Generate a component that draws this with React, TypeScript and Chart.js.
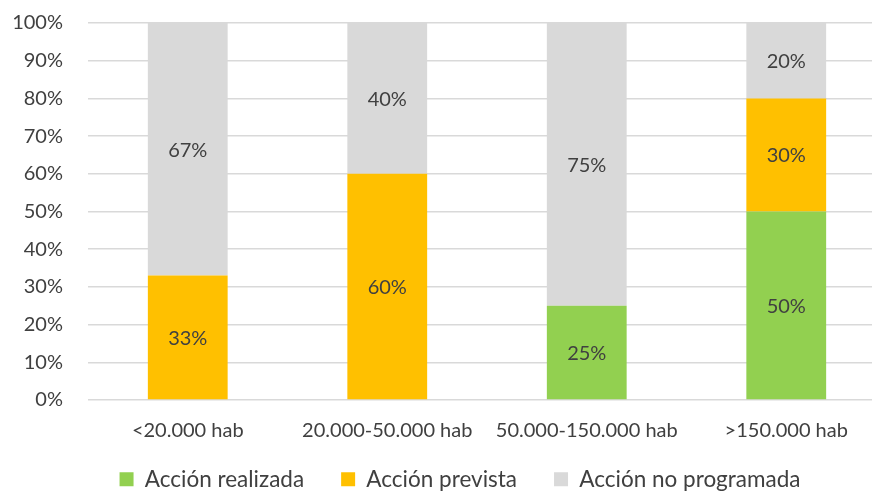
import React, { useEffect, useRef } from "react";
import { Chart, registerables } from "chart.js";

Chart.register(...registerables);

const categories = ["<20.000 hab", "20.000-50.000 hab", "50.000-150.000 hab", ">150.000 hab"];
const seriesNames = ["Acción realizada", "Acción prevista", "Acción no programada"];
const realizada = [0, 0, 25, 50];
const prevista = [33, 60, 0, 30];
const noProgramada = [67, 40, 75, 20];
const seriesColors = ["#92D050", "#FFC000", "#D9D9D9"];
const yTicks = [0, 10, 20, 30, 40, 50, 60, 70, 80, 90, 100];

const FONT = "Lato, 'Open Sans', sans-serif";
const TEXT = "#404040";

const dataLabelPlugin = {
  id: "dataLabels",
  afterDatasetsDraw(chart: any) {
    const ctx = chart.ctx;
    ctx.save();
    ctx.font = `20px ${FONT}`;
    ctx.fillStyle = TEXT;
    ctx.textAlign = "center";
    ctx.textBaseline = "middle";
    chart.data.datasets.forEach((ds: any, di: number) => {
      const meta = chart.getDatasetMeta(di);
      meta.data.forEach((bar: any, i: number) => {
        const v = ds.data[i];
        if (!v) return;
        const y = (bar.y + bar.base) / 2;
        ctx.fillText(v + "%", bar.x, y + 1);
      });
    });
    ctx.restore();
  },
};

const legendShiftPlugin = {
  id: "legendShift",
  afterLayout(chart: any) {
    const lg = chart.legend;
    if (!lg) return;
    lg.left = 3;
    lg.right = 917;
    lg.width = 914;
    lg.top = 431;
    lg.bottom = 491;
    lg.height = 60;
  },
};

export default function App() {
  const ref = useRef<HTMLCanvasElement>(null);
  useEffect(() => {
    if (!ref.current) return;
    const chart = new Chart(ref.current, {
      type: "bar",
      data: {
        labels: categories,
        datasets: [realizada, prevista, noProgramada].map((d, i) => ({
          label: seriesNames[i],
          data: d,
          backgroundColor: seriesColors[i],
          borderWidth: 0,
          barPercentage: 0.4,
          categoryPercentage: 1,
        })),
      },
      options: {
        animation: false,
        responsive: false,
        layout: { padding: { top: 23, right: 14, left: 0, bottom: 2 } },
        plugins: {
          tooltip: { enabled: false },
          legend: {
            position: "bottom",
            maxHeight: 40,
            labels: {
              font: { family: FONT, size: 22.5 },
              color: TEXT,
              boxWidth: 14,
              boxHeight: 14,
              padding: 37,
            },
          },
        },
        scales: {
          x: {
            stacked: true,
            grid: { display: false },
            border: { display: false },
            ticks: { font: { family: FONT, size: 20 }, color: TEXT, padding: 11, maxRotation: 0 },
            afterFit(s: any) {
              s.height = 49;
            },
          },
          y: {
            stacked: true,
            min: 0,
            max: 100,
            afterBuildTicks(s: any) {
              s.ticks = yTicks.map((v) => ({ value: v }));
            },
            grid: { color: "#D9D9D9", lineWidth: 1.5, drawTicks: false },
            border: { display: false },
            ticks: {
              font: { family: FONT, size: 20 },
              color: TEXT,
              padding: 25,
              callback: (v: any) => v + "%",
            },
            afterFit(s: any) {
              s.width = 88;
              s.paddingTop = 0;
              s.paddingBottom = 0;
            },
          },
        },
      },
      plugins: [dataLabelPlugin, legendShiftPlugin],
    });
    return () => chart.destroy();
  }, []);
  return (
    <div style={{ position: "absolute", left: 0, top: 0, width: 872, height: 491, overflow: "hidden", background: "#fff" }}>
      <canvas ref={ref} width={900} height={491} />
    </div>
  );
}
